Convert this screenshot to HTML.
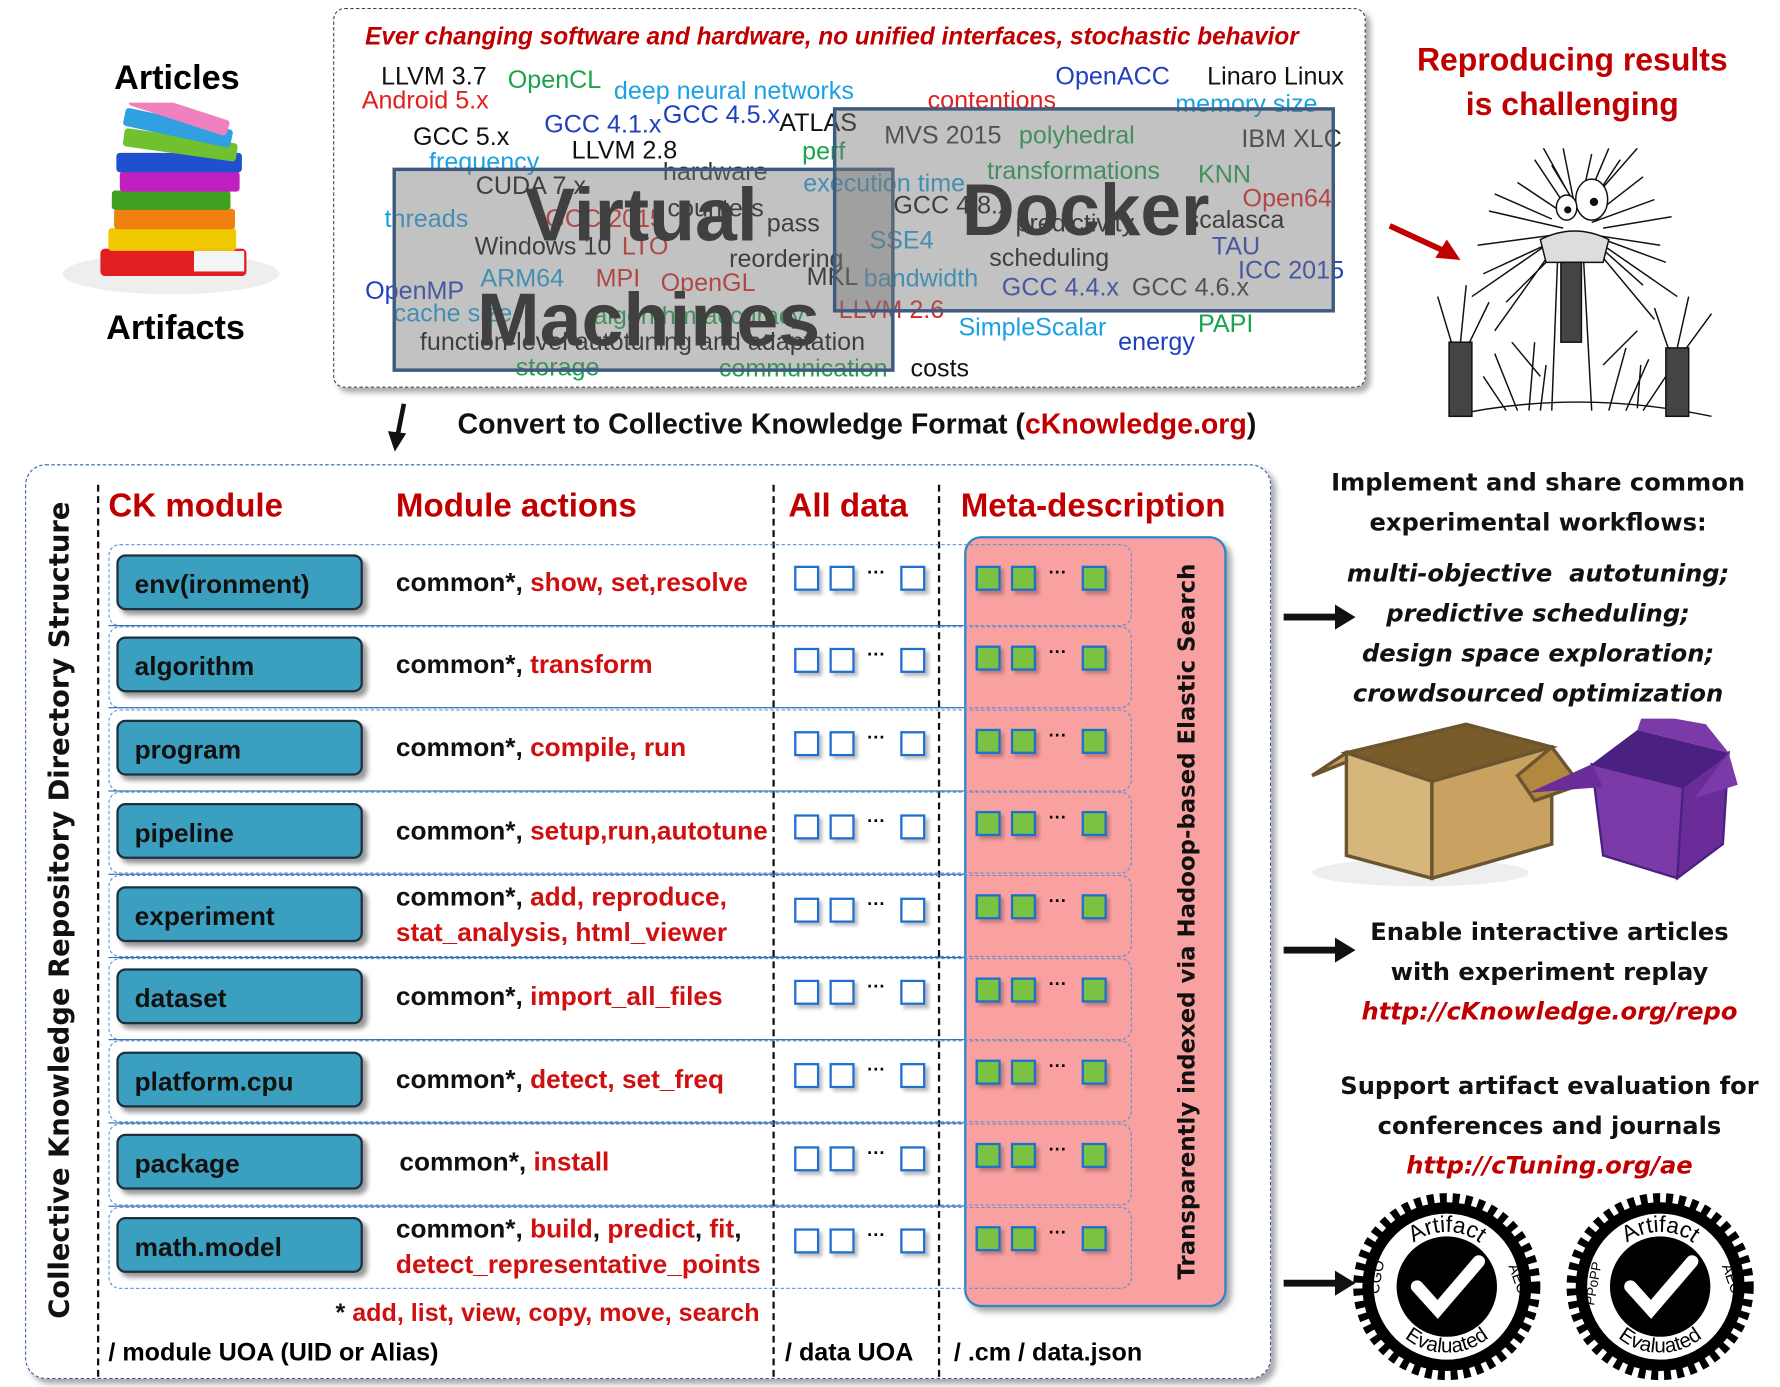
<!DOCTYPE html>
<html><head><meta charset="utf-8">
<style>
html,body{margin:0;padding:0;background:#fff;}
body{width:1780px;height:1387px;overflow:hidden;position:relative;}
#w{position:absolute;left:0;top:0;width:1560px;height:1216px;transform:scale(1.1410,1.1406);transform-origin:0 0;font-family:"Liberation Sans",sans-serif;}
.a{position:absolute;white-space:nowrap;line-height:1;}
.wd{position:absolute;white-space:nowrap;line-height:1;font-size:22px;transform:translateY(-50%);}
.k{color:#111}.g{color:#1aa34a}.c{color:#1ba1e2}.r{color:#e0201e}.b{color:#1f3fbf}.d{color:#333}
.dv{font-family:"DejaVu Sans","Liberation Sans",sans-serif;font-weight:bold;}
.row{position:absolute;left:95px;width:895px;height:70px;border:1px dashed #5b8fd0;border-radius:10px;}
.hl{position:absolute;left:95px;width:750px;height:0;border-top:1.5px solid #2e6fb0;}
.mod{position:absolute;left:102px;width:216px;height:49px;background:#3b9fc0;border:2px solid #1d3040;border-radius:8px;box-shadow:4px 4px 4px #999;font-size:23px;font-weight:bold;color:#111;line-height:49px;padding-left:14px;box-sizing:border-box;}
.act{position:absolute;left:347px;font-size:23px;font-weight:bold;color:#111;line-height:31px;white-space:nowrap;}
.act span{color:#d01010}
.sq{position:absolute;width:18px;height:18px;border:2px solid #1f6fd0;background:#fff;box-shadow:3px 3px 3px #bbb;}
.gs{position:absolute;width:18px;height:18px;border:2px solid #1f6fd0;background:#7cc242;box-shadow:3px 3px 3px #b77;}
.dots{position:absolute;font-size:16px;font-weight:bold;}
.vl{position:absolute;top:425px;height:782px;border-left:2px dashed #111;}
.rc{font-size:21.2px;line-height:35px;color:#111;text-align:center;}
</style></head><body><div id="w">

<!-- Articles -->
<div class="a" style="left:100px;top:54px;font-size:30px;font-weight:bold;">Articles</div>
<svg style="position:absolute;left:50px;top:90px" width="210" height="170">
<ellipse cx="100" cy="150" rx="95" ry="18" fill="#eee"/>
<rect x="38" y="128" width="128" height="24" fill="#e02020" rx="4"/>
<rect x="45" y="110" width="112" height="20" fill="#f0c800" rx="3"/>
<rect x="50" y="93" width="106" height="18" fill="#f08010" rx="3"/>
<rect x="48" y="77" width="104" height="17" fill="#40a020" rx="3"/>
<rect x="55" y="60" width="105" height="18" fill="#c020c0" rx="3"/>
<rect x="52" y="44" width="110" height="17" fill="#2050d0" rx="3"/>
<rect x="58" y="29" width="100" height="16" fill="#70c030" rx="3" transform="rotate(8 108 37)"/>
<rect x="58" y="14" width="96" height="16" fill="#30a0e0" rx="3" transform="rotate(12 106 22)"/>
<rect x="62" y="2" width="90" height="14" fill="#f080c0" rx="3" transform="rotate(18 107 9)"/>
<rect x="120" y="130" width="44" height="18" fill="#f4f4f4"/>
</svg>
<div class="a" style="left:93px;top:273px;font-size:30px;font-weight:bold;">Artifacts</div>

<!-- top box -->
<div style="position:absolute;left:292px;top:7px;width:903px;height:331px;border:1.5px dashed #444;border-radius:10px;box-shadow:4px 4px 5px #aaa;"></div>
<div class="a" style="left:320px;top:21px;font-size:22px;font-weight:bold;font-style:italic;color:#c00000;transform:scaleX(0.97);transform-origin:0 0;">Ever changing software and hardware, no unified interfaces, stochastic behavior</div>

<div class="wd k" style="left:334px;top:67px">LLVM 3.7</div>
<div class="wd g" style="left:445px;top:70px">OpenCL</div>
<div class="wd c" style="left:538px;top:80px">deep neural networks</div>
<div class="wd r" style="left:317px;top:88px">Android 5.x</div>
<div class="wd r" style="left:813px;top:88px">contentions</div>
<div class="wd b" style="left:925px;top:67px">OpenACC</div>
<div class="wd k" style="left:1058px;top:67px">Linaro Linux</div>
<div class="wd c" style="left:1030px;top:91px">memory size</div>
<div class="wd b" style="left:477px;top:109px">GCC 4.1.x</div>
<div class="wd b" style="left:581px;top:101px">GCC 4.5.x</div>
<div class="wd k" style="left:683px;top:108px">ATLAS</div>
<div class="wd k" style="left:362px;top:120px">GCC 5.x</div>
<div class="wd d" style="left:775px;top:119px">MVS 2015</div>
<div class="wd g" style="left:893px;top:119px">polyhedral</div>
<div class="wd d" style="left:1088px;top:122px">IBM XLC</div>
<div class="wd k" style="left:501px;top:132px">LLVM 2.8</div>
<div class="wd g" style="left:703px;top:133px">perf</div>
<div class="wd c" style="left:376px;top:142px">frequency</div>
<div class="wd d" style="left:581px;top:151px">hardware</div>
<div class="wd g" style="left:865px;top:150px">transformations</div>
<div class="wd g" style="left:1050px;top:153px">KNN</div>
<div class="wd c" style="left:704px;top:161px">execution time</div>
<div class="wd k" style="left:417px;top:163px">CUDA 7.x</div>
<div class="wd r" style="left:1089px;top:174px">Open64</div>
<div class="wd k" style="left:783px;top:180px">GCC 4.8.x</div>
<div class="wd k" style="left:890px;top:196px">predictivity</div>
<div class="wd c" style="left:337px;top:192px">threads</div>
<div class="wd r" style="left:478px;top:192px">GCC 2015</div>
<div class="wd k" style="left:585px;top:183px">counters</div>
<div class="wd k" style="left:672px;top:196px">pass</div>
<div class="wd k" style="left:1040px;top:193px">scalasca</div>
<div class="wd k" style="left:416px;top:216px">Windows 10</div>
<div class="wd r" style="left:545px;top:216px">LTO</div>
<div class="wd c" style="left:762px;top:211px">SSE4</div>
<div class="wd b" style="left:1062px;top:216px">TAU</div>
<div class="wd k" style="left:639px;top:227px">reordering</div>
<div class="wd k" style="left:867px;top:226px">scheduling</div>
<div class="wd b" style="left:1085px;top:237px">ICC 2015</div>
<div class="wd b" style="left:320px;top:255px">OpenMP</div>
<div class="wd c" style="left:421px;top:244px">ARM64</div>
<div class="wd r" style="left:522px;top:244px">MPI</div>
<div class="wd r" style="left:579px;top:248px">OpenGL</div>
<div class="wd k" style="left:707px;top:243px">MKL</div>
<div class="wd c" style="left:757px;top:244px">bandwidth</div>
<div class="wd b" style="left:878px;top:252px">GCC 4.4.x</div>
<div class="wd d" style="left:992px;top:252px">GCC 4.6.x</div>
<div class="wd c" style="left:345px;top:275px">cache size</div>
<div class="wd g" style="left:520px;top:277px">algorithm accuracy</div>
<div class="wd r" style="left:735px;top:272px">LLVM 2.6</div>
<div class="wd c" style="left:840px;top:287px">SimpleScalar</div>
<div class="wd g" style="left:1050px;top:284px">PAPI</div>
<div class="wd b" style="left:980px;top:300px">energy</div>
<div class="wd k" style="left:368px;top:300px">function-level autotuning and adaptation</div>
<div class="wd g" style="left:452px;top:322px">storage</div>
<div class="wd g" style="left:630px;top:323px">communication</div>
<div class="wd k" style="left:798px;top:323px">costs</div>

<div style="position:absolute;left:344px;top:147px;width:434px;height:173px;border:3px solid #3d5a80;background:rgba(120,120,120,0.45);"></div>
<div style="position:absolute;left:730px;top:94px;width:434px;height:174px;border:3px solid #3d5a80;background:rgba(120,120,120,0.45);"></div>
<div class="a" style="left:460px;top:155px;font-size:66px;font-weight:bold;color:#404040;">Virtual</div>
<div class="a" style="left:418px;top:247px;font-size:66px;font-weight:bold;color:#404040;">Machines</div>
<div class="a" style="left:843px;top:152px;font-size:64px;font-weight:bold;color:#404040;">Docker</div>

<!-- reproducing -->
<div class="a" style="left:1200px;top:33px;width:356px;text-align:center;font-size:28px;font-weight:bold;color:#c00000;line-height:39px;">Reproducing results<br>is challenging</div>
<svg style="position:absolute;left:1210px;top:130px" width="300" height="250">
<line x1="8" y1="68" x2="60" y2="92" stroke="#c00000" stroke-width="5"/>
<polygon points="70,98 48,96 58,80" fill="#c00000"/>
<g stroke="#111" stroke-width="1.3" fill="none">
<path d="M165 60 L120 30 M165 55 L135 10 M170 50 L160 0 M175 50 L185 5 M180 55 L210 10 M185 60 L230 25 M185 65 L240 45 M180 75 L245 85 M160 70 L95 55 M160 75 L85 85 M155 80 L90 110 M160 85 L110 135 M185 80 L230 120 M190 78 L250 100 M170 48 L150 15 M178 52 L200 0 M150 62 L100 40 M195 70 L255 60 M190 90 L240 150 M150 90 L100 160 M195 85 L260 130 M145 85 L80 130 M165 40 L140 -5 M190 40 L225 0"/>
<ellipse cx="185" cy="45" rx="14" ry="18" fill="#fff"/><circle cx="187" cy="47" r="3" fill="#111"/>
<ellipse cx="163" cy="52" rx="9" ry="11" fill="#fff"/><circle cx="164" cy="54" r="2.5" fill="#111"/>
<path d="M140 80 Q170 65 200 80 L195 100 L145 100 Z" fill="#ddd"/>
<path d="M155 100 L150 230 M178 100 L185 230"/>
<rect x="158" y="100" width="18" height="70" fill="#444"/>
<path d="M60 235 Q170 210 290 235"/>
<rect x="60" y="170" width="20" height="65" fill="#444"/><rect x="250" y="175" width="20" height="60" fill="#444"/>
<path d="M62 170 L50 130 M70 170 L75 120 M78 170 L95 135 M252 175 L240 140 M260 175 L270 130 M268 175 L290 145 M120 230 L100 180 M130 230 L135 170 M200 230 L215 175 M215 230 L235 185 M140 200 L115 170 M195 190 L225 160 M110 230 L90 200 M230 230 L250 200 M140 230 L145 190 M225 228 L228 190"/>
</g></svg>

<!-- convert -->
<svg style="position:absolute;left:336px;top:350px" width="30" height="50"><line x1="18" y1="4" x2="12" y2="34" stroke="#111" stroke-width="4"/><polygon points="4,28 20,30 10,46" fill="#111"/></svg>
<div class="a" style="left:401px;top:360px;font-size:25px;font-weight:bold;color:#111;">Convert to Collective Knowledge Format (<span style="color:#c00000">cKnowledge.org</span>)</div>

<!-- main box -->
<div style="position:absolute;left:22px;top:407px;width:1090px;height:800px;border:1.5px dashed #3060a0;border-radius:18px;box-shadow:4px 4px 5px #aaa;"></div>
<div class="a dv" style="left:52px;top:798px;font-size:24px;color:#111;transform:translate(-50%,-50%) rotate(-90deg);">Collective Knowledge Repository Directory Structure</div>
<div class="vl" style="left:85px"></div>
<div class="vl" style="left:677px"></div>
<div class="vl" style="left:822px"></div>
<div class="a" style="left:95px;top:430px;font-size:29px;font-weight:bold;color:#c00000;">CK module</div>
<div class="a" style="left:347px;top:430px;font-size:29px;font-weight:bold;color:#c00000;">Module actions</div>
<div class="a" style="left:691px;top:430px;font-size:29px;font-weight:bold;color:#c00000;">All data</div>
<div class="a" style="left:842px;top:430px;font-size:29px;font-weight:bold;color:#c00000;">Meta-description</div>

<div style="position:absolute;left:845px;top:470px;width:226px;height:672px;background:#f9a0a0;border:2px solid #2e86c8;border-radius:15px;box-shadow:4px 4px 5px #aaa;"></div>
<div class="a dv" style="left:1040px;top:808px;font-size:20px;color:#111;transform:translate(-50%,-50%) rotate(-90deg);">Transparently indexed via Hadoop-based Elastic Search</div>

<div class="row" style="top:477px"></div><div class="row" style="top:549px"></div><div class="row" style="top:622px"></div>
<div class="row" style="top:694px"></div><div class="row" style="top:767px"></div><div class="row" style="top:840px"></div>
<div class="row" style="top:912px"></div><div class="row" style="top:985px"></div><div class="row" style="top:1058px"></div>
<div class="hl" style="top:548px"></div><div class="hl" style="top:620px"></div><div class="hl" style="top:693px"></div>
<div class="hl" style="top:766px"></div><div class="hl" style="top:839px"></div><div class="hl" style="top:911px"></div>
<div class="hl" style="top:984px"></div><div class="hl" style="top:1057px"></div>

<div class="mod" style="top:486px">env(ironment)</div>
<div class="mod" style="top:558px">algorithm</div>
<div class="mod" style="top:631px">program</div>
<div class="mod" style="top:704px">pipeline</div>
<div class="mod" style="top:777px">experiment</div>
<div class="mod" style="top:849px">dataset</div>
<div class="mod" style="top:922px">platform.cpu</div>
<div class="mod" style="top:994px">package</div>
<div class="mod" style="top:1067px">math.model</div>

<div class="act" style="top:495px">common*, <span>show, set,resolve</span></div>
<div class="act" style="top:567px">common*, <span>transform</span></div>
<div class="act" style="top:640px">common*, <span>compile, run</span></div>
<div class="act" style="top:713px">common*, <span>setup,run,autotune</span></div>
<div class="act" style="top:771px">common*, <span>add, reproduce,<br>stat_analysis, html_viewer</span></div>
<div class="act" style="top:858px">common*, <span>import_all_files</span></div>
<div class="act" style="top:931px">common*, <span>detect, set_freq</span></div>
<div class="act" style="top:1003px;left:350px">common*, <span>install</span></div>
<div class="act" style="top:1062px">common*, <span>build</span>, <span>predict</span>, <span>fit</span>,<br><span>detect_representative_points</span></div>
<div class="act" style="top:1135px;left:294px;font-size:22px">* <span>add, list, view, copy, move, search</span></div>
<div class="a" style="left:95px;top:1175px;font-size:22px;font-weight:bold;">/ module UOA (UID or Alias)</div>
<div class="a" style="left:688px;top:1175px;font-size:22px;font-weight:bold;">/ data UOA</div>
<div class="a" style="left:836px;top:1175px;font-size:22px;font-weight:bold;">/ .cm / data.json</div>

<!-- right column -->
<div class="a dv rc" style="left:1140px;top:405px;width:416px;">Implement and share common<br>experimental workflows:</div>
<div class="a dv rc" style="left:1140px;top:485px;width:416px;font-style:italic;">multi-objective&nbsp; autotuning;<br>predictive scheduling;<br>design space exploration;<br>crowdsourced optimization</div>
<div class="a dv rc" style="left:1150px;top:799px;width:416px;">Enable interactive articles<br>with experiment replay<br><span style="color:#c00000;font-style:italic">http://cKnowledge.org/repo</span></div>
<div class="a dv rc" style="left:1150px;top:934px;width:416px;">Support artifact evaluation for<br>conferences and journals<br><span style="color:#c00000;font-style:italic">http://cTuning.org/ae</span></div>

<svg style="position:absolute;left:1120px;top:520px" width="80" height="630">
<g fill="#111"><rect x="5" y="18" width="50" height="6"/><polygon points="50,10 68,21 50,32"/>
<rect x="5" y="310" width="50" height="6"/><polygon points="50,302 68,313 50,324"/>
<rect x="5" y="602" width="50" height="6"/><polygon points="50,594 68,605 50,616"/></g></svg>

<svg style="position:absolute;left:1145px;top:630px" width="380" height="150">
<ellipse cx="100" cy="135" rx="95" ry="12" fill="#eee"/>
<polygon points="35,30 140,5 215,25 110,55" fill="#7a5c2a" stroke="#6b5530" stroke-width="3"/>
<polygon points="35,30 110,55 110,140 35,120" fill="#d6b67a" stroke="#6b5530" stroke-width="3"/>
<polygon points="110,55 215,25 215,110 110,140" fill="#c9a262" stroke="#6b5530" stroke-width="3"/>
<polygon points="35,30 5,50 35,38" fill="#c9a262" stroke="#6b5530" stroke-width="3"/>
<polygon points="215,25 240,58 200,72 185,50" fill="#b08840" stroke="#6b5530" stroke-width="3"/>
<polygon points="250,40 290,10 370,30 330,60" fill="#4a2080"/>
<polygon points="250,40 330,60 325,140 260,120" fill="#7a3aa8" stroke="#4a2080" stroke-width="2"/>
<polygon points="330,60 370,30 365,110 325,140" fill="#6a2c98" stroke="#4a2080" stroke-width="2"/>
<polygon points="250,40 195,65 260,60" fill="#6a2c98"/>
<polygon points="290,10 295,-5 350,5 370,30" fill="#7a3aa8"/>
<polygon points="370,30 378,58 340,70" fill="#7a3aa8"/>
</svg>

<svg style="position:absolute;left:1180px;top:1040px" width="380" height="176" font-family="Liberation Sans,sans-serif">
<defs>
<path id="ta" d="M 40 88 A 48 48 0 0 1 136 88"/>
<path id="tb" d="M 30 88 A 58 58 0 0 0 146 88"/>
</defs>
<g>
<circle cx="88" cy="88" r="76" fill="none" stroke="#000" stroke-width="12" stroke-dasharray="6 5"/>
<circle cx="88" cy="88" r="74" fill="#000"/>
<circle cx="88" cy="88" r="64" fill="#fff"/>
<circle cx="88" cy="88" r="44" fill="#000"/>
<path d="M62 88 L80 108 L116 66" stroke="#fff" stroke-width="11" fill="none" stroke-linecap="round"/>
<text font-size="20" fill="#000"><textPath href="#ta" startOffset="50%" text-anchor="middle">Artifact</textPath></text>
<text font-size="18" fill="#000"><textPath href="#tb" startOffset="50%" text-anchor="middle">Evaluated</textPath></text>
<text x="28" y="95" font-size="13" transform="rotate(-80 28 95)">CGO</text>
<text x="142" y="70" font-size="13" transform="rotate(70 142 70)">AEC</text>
</g>
<g transform="translate(187,0)">
<circle cx="88" cy="88" r="76" fill="none" stroke="#000" stroke-width="12" stroke-dasharray="6 5"/>
<circle cx="88" cy="88" r="74" fill="#000"/>
<circle cx="88" cy="88" r="64" fill="#fff"/>
<circle cx="88" cy="88" r="44" fill="#000"/>
<path d="M62 88 L80 108 L116 66" stroke="#fff" stroke-width="11" fill="none" stroke-linecap="round"/>
<text font-size="20" fill="#000"><textPath href="#ta" startOffset="50%" text-anchor="middle">Artifact</textPath></text>
<text font-size="18" fill="#000"><textPath href="#tb" startOffset="50%" text-anchor="middle">Evaluated</textPath></text>
<text x="30" y="105" font-size="12" transform="rotate(-80 30 105)">PPoPP</text>
<text x="142" y="70" font-size="13" transform="rotate(70 142 70)">AEC</text>
</g>
</svg>

<!-- data squares -->
<div class="sq" style="left:696px;top:496px"></div><div class="sq" style="left:727px;top:496px"></div><div class="dots" style="left:760px;top:494px">···</div><div class="sq" style="left:789px;top:496px"></div>
<div class="gs" style="left:855px;top:496px"></div><div class="gs" style="left:886px;top:496px"></div><div class="dots" style="left:919px;top:494px">···</div><div class="gs" style="left:948px;top:496px"></div>
<div class="sq" style="left:696px;top:568px"></div><div class="sq" style="left:727px;top:568px"></div><div class="dots" style="left:760px;top:566px">···</div><div class="sq" style="left:789px;top:568px"></div>
<div class="gs" style="left:855px;top:566px"></div><div class="gs" style="left:886px;top:566px"></div><div class="dots" style="left:919px;top:564px">···</div><div class="gs" style="left:948px;top:566px"></div>
<div class="sq" style="left:696px;top:641px"></div><div class="sq" style="left:727px;top:641px"></div><div class="dots" style="left:760px;top:639px">···</div><div class="sq" style="left:789px;top:641px"></div>
<div class="gs" style="left:855px;top:639px"></div><div class="gs" style="left:886px;top:639px"></div><div class="dots" style="left:919px;top:637px">···</div><div class="gs" style="left:948px;top:639px"></div>
<div class="sq" style="left:696px;top:714px"></div><div class="sq" style="left:727px;top:714px"></div><div class="dots" style="left:760px;top:712px">···</div><div class="sq" style="left:789px;top:714px"></div>
<div class="gs" style="left:855px;top:711px"></div><div class="gs" style="left:886px;top:711px"></div><div class="dots" style="left:919px;top:709px">···</div><div class="gs" style="left:948px;top:711px"></div>
<div class="sq" style="left:696px;top:787px"></div><div class="sq" style="left:727px;top:787px"></div><div class="dots" style="left:760px;top:785px">···</div><div class="sq" style="left:789px;top:787px"></div>
<div class="gs" style="left:855px;top:784px"></div><div class="gs" style="left:886px;top:784px"></div><div class="dots" style="left:919px;top:782px">···</div><div class="gs" style="left:948px;top:784px"></div>
<div class="sq" style="left:696px;top:859px"></div><div class="sq" style="left:727px;top:859px"></div><div class="dots" style="left:760px;top:857px">···</div><div class="sq" style="left:789px;top:859px"></div>
<div class="gs" style="left:855px;top:857px"></div><div class="gs" style="left:886px;top:857px"></div><div class="dots" style="left:919px;top:855px">···</div><div class="gs" style="left:948px;top:857px"></div>
<div class="sq" style="left:696px;top:932px"></div><div class="sq" style="left:727px;top:932px"></div><div class="dots" style="left:760px;top:930px">···</div><div class="sq" style="left:789px;top:932px"></div>
<div class="gs" style="left:855px;top:929px"></div><div class="gs" style="left:886px;top:929px"></div><div class="dots" style="left:919px;top:927px">···</div><div class="gs" style="left:948px;top:929px"></div>
<div class="sq" style="left:696px;top:1005px"></div><div class="sq" style="left:727px;top:1005px"></div><div class="dots" style="left:760px;top:1003px">···</div><div class="sq" style="left:789px;top:1005px"></div>
<div class="gs" style="left:855px;top:1002px"></div><div class="gs" style="left:886px;top:1002px"></div><div class="dots" style="left:919px;top:1000px">···</div><div class="gs" style="left:948px;top:1002px"></div>
<div class="sq" style="left:696px;top:1077px"></div><div class="sq" style="left:727px;top:1077px"></div><div class="dots" style="left:760px;top:1075px">···</div><div class="sq" style="left:789px;top:1077px"></div>
<div class="gs" style="left:855px;top:1075px"></div><div class="gs" style="left:886px;top:1075px"></div><div class="dots" style="left:919px;top:1073px">···</div><div class="gs" style="left:948px;top:1075px"></div>

</div></body></html>
